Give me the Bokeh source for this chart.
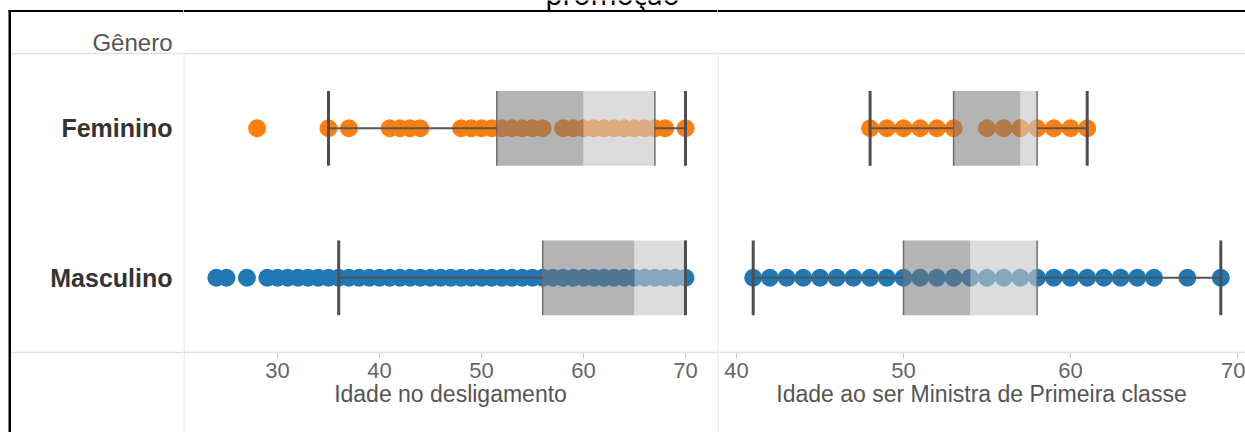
from bokeh.plotting import figure
from bokeh.layouts import row
from bokeh.models import Range1d, FixedTicker, Span
from bokeh.core.properties import value
from bokeh.embed import file_html
from bokeh.resources import INLINE

# ---------------- data ----------------
TITLE = "promoção"
HEADER = "Gênero"
categories = ["Feminino", "Masculino"]
colors = ["#ff7f0e", "#1f77b4"]

# panel 1: Idade no desligamento
desl_label = "Idade no desligamento"
desl_ticks = [30, 40, 50, 60, 70]
desl_fem = [28, 35, 37, 41, 42, 43, 44, 48, 49, 50, 51, 52, 53, 54, 55, 56,
            58, 59, 60, 61, 62, 63, 64, 65, 66, 67, 68, 70]
desl_masc = [24, 25, 27, 29, 30, 31, 32, 33, 34, 35, 36, 37, 38, 39, 40, 41,
             42, 43, 44, 45, 46, 47, 48, 49, 50, 51, 52, 53, 54, 55, 56, 57,
             58, 59, 60, 61, 62, 63, 64, 65, 66, 67, 68, 69, 70]
desl_lw = [35, 36]
desl_q1 = [51.5, 56]
desl_med = [60, 65]
desl_q3 = [67, 70]
desl_uw = [70, 70]

# panel 2: Idade ao ser Ministra de Primeira classe
prom_label = "Idade ao ser Ministra de Primeira classe"
prom_ticks = [40, 50, 60, 70]
prom_fem = [48, 49, 50, 51, 52, 53, 55, 56, 57, 58, 59, 60, 61]
prom_masc = [41, 42, 43, 44, 45, 46, 47, 48, 49, 50, 51, 52, 53, 54, 55, 56,
             57, 58, 59, 60, 61, 62, 63, 64, 65, 67, 69]
prom_lw = [48, 41]
prom_q1 = [53, 50]
prom_med = [57, 54]
prom_q3 = [58, 58]
prom_uw = [61, 69]

# ---------------- layout constants ----------------
H = 432
ROW_PX = 149.5
HEAD_PX = 53
n = len(categories)
row_y = [n - i - 0.5 for i in range(n)]
y_top = n + HEAD_PX / ROW_PX
y_bot = -(H - HEAD_PX - n * ROW_PX) / ROW_PX
HALF = 0.25


def py(px):
    return y_top - px / ROW_PX


FONT = "Liberation Sans"
GRID = "#e2e2e2"


def base(width, xr, spans=True):
    p = figure(width=width, height=H, x_range=xr, y_range=Range1d(y_bot, y_top),
               output_backend="svg", toolbar_location=None, min_border=0,
               outline_line_color=None, x_axis_location="below",
               y_axis_location=None, background_fill_color="white",
               border_fill_color="white")
    p.xgrid.visible = False
    p.ygrid.visible = False
    if spans:
        p.add_layout(Span(location=py(10.5), dimension="width", line_color="black", line_width=2))
        p.add_layout(Span(location=n, dimension="width", line_color=GRID, line_width=1.5))
        p.add_layout(Span(location=0, dimension="width", line_color=GRID, line_width=1.5))
    return p


def panel(width, x_start, px_per_unit, ticks, label, fem, masc, lw, q1, med, q3, uw):
    x_end = x_start + width / px_per_unit
    p = base(width, Range1d(x_start, x_end))
    # left separator
    xl = x_start + 0.5 / px_per_unit
    p.segment(x0=[xl], x1=[xl], y0=[n], y1=[y_bot], line_color=GRID, line_width=1.2)
    # dots
    xs = fem + masc
    ys = [row_y[0]] * len(fem) + [row_y[1]] * len(masc)
    cs = [colors[0]] * len(fem) + [colors[1]] * len(masc)
    p.scatter(x=xs, y=ys, size=18, fill_color=cs, line_color=None)
    # box
    bot = [y - HALF for y in row_y]
    top = [y + HALF for y in row_y]
    p.hbar(y=row_y, height=2 * HALF, left=q1, right=med, fill_color="#777777",
           fill_alpha=0.55, line_color=None)
    p.hbar(y=row_y, height=2 * HALF, left=med, right=q3, fill_color="#c6c6c6",
           fill_alpha=0.62, line_color=None)
    p.segment(x0=q1, x1=q1, y0=bot, y1=top, line_color="#6e6e6e", line_width=1.5)
    p.segment(x0=q3, x1=q3, y0=bot, y1=top, line_color="#6e6e6e", line_width=1.5)
    # whiskers
    p.segment(x0=lw, x1=q1, y0=row_y, y1=row_y, line_color="#555555", line_width=2)
    p.segment(x0=q3, x1=uw, y0=row_y, y1=row_y, line_color="#555555", line_width=2)
    p.segment(x0=lw, x1=lw, y0=bot, y1=top, line_color="#4f4f4f", line_width=3)
    p.segment(x0=uw, x1=uw, y0=bot, y1=top, line_color="#4f4f4f", line_width=3)
    # axis
    ax = p.xaxis[0]
    ax.fixed_location = 0
    ax.ticker = FixedTicker(ticks=ticks)
    ax.axis_label = label
    ax.axis_line_color = None
    ax.major_tick_line_color = "#c8c8c8"
    ax.major_tick_out = 6
    ax.major_tick_in = 0
    ax.minor_tick_line_color = None
    ax.major_label_text_font = FONT
    ax.major_label_text_font_size = "22px"
    ax.major_label_text_color = "#666666"
    ax.major_label_standoff = 4
    ax.axis_label_text_font = FONT
    ax.axis_label_text_font_size = "23px"
    ax.axis_label_text_font_style = "normal"
    ax.axis_label_text_color = "#555555"
    ax.axis_label_standoff = 0
    return p


# header column (page x 0..183)
pa = base(183, Range1d(0, 183), spans=False)
pa.xaxis.visible = False
pa.segment(x0=[8, 8, 8], x1=[183, 183, 183], y0=[py(10.5), n, 0], y1=[py(10.5), n, 0],
           line_color=["black", GRID, GRID], line_width=[2, 1.5, 1.5])
pa.segment(x0=[9.25], x1=[9.25], y0=[py(9.5)], y1=[y_bot], line_color="black", line_width=2.5)
pa.text(x=[172] * n, y=row_y, text=categories, text_align="right", text_baseline="middle",
        text_font=value(FONT), text_font_style="bold", text_font_size="25px",
        text_color="#333333")
pa.text(x=[172], y=[py(42)], text=[HEADER], text_align="right", text_baseline="middle",
        text_font=value(FONT), text_font_size="24px", text_color="#555555")

pb = panel(534, 30 - 94 / 10.2, 10.2, desl_ticks, desl_label, desl_fem, desl_masc,
           desl_lw, desl_q1, desl_med, desl_q3, desl_uw)
pc = panel(528, 40 - 19 / 16.7, 16.7, prom_ticks, prom_label, prom_fem, prom_masc,
           prom_lw, prom_q1, prom_med, prom_q3, prom_uw)

# clipped title fragment at the top
tx = pb.x_range.start + (612 - 183) / 10.2
pb.text(x=[tx], y=[py(-7)], text=[TITLE], text_align="center", text_baseline="alphabetic",
        text_font=value("Noto Sans"), text_font_size="28px", text_color="black")

layout = row(pa, pb, pc)
open("out.html", "w").write(file_html(layout, INLINE))
